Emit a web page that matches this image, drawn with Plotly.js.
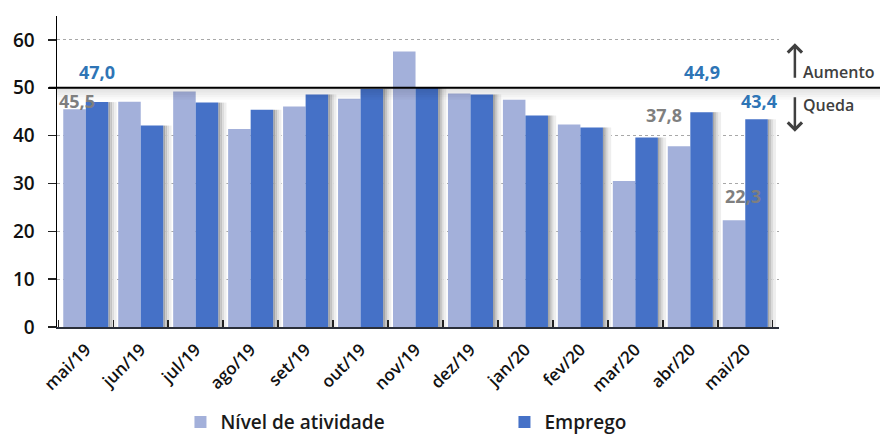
<!DOCTYPE html>
<html>
<head>
<meta charset="utf-8">
<script src="https://cdn.plot.ly/plotly-3.0.1.min.js"></script>
<style>
html,body{margin:0;padding:0;background:#fff;}
#chart{width:880px;height:436px;}
</style>
</head>
<body>
<div id="chart"></div>
<script>
// ---- data ----
var categories = ['mai/19','jun/19','jul/19','ago/19','set/19','out/19','nov/19','dez/19','jan/20','fev/20','mar/20','abr/20','mai/20'];
var nivelAtividade = [45.5, 47.1, 49.2, 41.4, 46.1, 47.7, 57.6, 48.8, 47.5, 42.3, 30.5, 37.8, 22.3];
var emprego = [47.0, 42.1, 46.9, 45.4, 48.6, 49.8, 50.1, 48.6, 44.2, 41.7, 39.6, 44.9, 43.4];
var yTicks = [0, 10, 20, 30, 40, 50, 60];
var seriesNames = ['Nível de atividade', 'Emprego'];
var labelledIdx = [0, 11, 12];

var FONT = '"Open Sans", "Noto Sans", Roboto, sans-serif';
var fmt = function(v){ return v.toFixed(1).replace('.', ','); };

var traces = [];
// soft shadow strips to the right of the Emprego bars
var shadowCols = ['#a6a6a6', '#c2c2c2', '#dcdcdc', '#eeeeee'];
var shadowOff = [0.41, 0.445, 0.48, 0.515];
var shadowW = [0.035, 0.035, 0.035, 0.045];
for (var s = 0; s < shadowCols.length; s++) {
  traces.push({
    type: 'bar', x: categories, y: emprego,
    offset: shadowOff[s], width: shadowW[s],
    marker: {color: shadowCols[s], line: {width: 0}},
    showlegend: false, hoverinfo: 'skip'
  });
}
traces.push({
  type: 'bar', name: seriesNames[0], x: categories, y: nivelAtividade,
  offset: -0.41, width: 0.41,
  marker: {color: '#a3b0da', line: {width: 0}}
});
traces.push({
  type: 'bar', name: seriesNames[1], x: categories, y: emprego,
  offset: 0, width: 0.41,
  marker: {color: '#4571c7', line: {width: 0}}
});

var annotations = [];
// value labels
var grayPos = {0: [-0.16, 47.3], 11: [-0.47, 44.4], 12: [-0.05, 27.4]};
var bluePos = {0: [0.2, 53.4], 11: [0.21, 53.4], 12: [0.25, 47.3]};
labelledIdx.forEach(function(i){
  annotations.push({
    xref: 'x', yref: 'y', x: i + grayPos[i][0], y: grayPos[i][1],
    text: '<b>' + fmt(nivelAtividade[i]) + '</b>', showarrow: false,
    font: {family: FONT, size: 18, color: '#7f7f7f'}
  });
  annotations.push({
    xref: 'x', yref: 'y', x: i + bluePos[i][0], y: bluePos[i][1],
    text: '<b>' + fmt(emprego[i]) + '</b>', showarrow: false,
    font: {family: FONT, size: 18, color: '#2e75b6'}
  });
});
// Aumento / Queda
annotations.push({
  xref: 'paper', yref: 'y', x: 1.022, y: 59.3, ax: 0, ay: 36,
  text: '', showarrow: true, arrowhead: 4, arrowsize: 1.1, arrowwidth: 2.5, arrowcolor: '#404040'
});
annotations.push({
  xref: 'paper', yref: 'y', x: 1.022, y: 40.8, ax: 0, ay: -36,
  text: '', showarrow: true, arrowhead: 4, arrowsize: 1.1, arrowwidth: 2.5, arrowcolor: '#404040'
});
annotations.push({
  xref: 'paper', yref: 'y', x: 1.031, y: 53.4, xanchor: 'left',
  text: 'Aumento', showarrow: false, font: {family: FONT, size: 16, color: '#404040', weight: 600}
});
annotations.push({
  xref: 'paper', yref: 'y', x: 1.031, y: 46.3, xanchor: 'left',
  text: 'Queda', showarrow: false, font: {family: FONT, size: 16, color: '#404040', weight: 600}
});

var shapes = [];
// soft shadow below the 50 line
for (var k = 1; k <= 5; k++) {
  shapes.push({
    type: 'rect', xref: 'paper', yref: 'y', x0: 0, x1: 1.14, y0: 50 - 0.5 * k, y1: 50,
    fillcolor: 'rgba(0,0,0,0.025)', line: {width: 0}, layer: 'above'
  });
}
shapes.push({
  type: 'line', xref: 'paper', yref: 'y', x0: -0.011, x1: 1.14, y0: 50, y1: 50,
  line: {color: '#000', width: 2}, layer: 'above'
});

var layout = {
  width: 880, height: 436,
  margin: {l: 57, r: 101, t: 16, b: 109, autoexpand: false},
  paper_bgcolor: '#fff', plot_bgcolor: '#fff',
  barmode: 'overlay',
  showlegend: true,
  legend: {
    orientation: 'h', x: 0.171, y: -0.306, xanchor: 'left', yanchor: 'middle',
    font: {family: FONT, size: 19, color: '#1a1a1a', weight: 600},
    entrywidth: 279, entrywidthmode: 'pixels', itemwidth: 30,
    traceorder: 'normal', bgcolor: 'rgba(0,0,0,0)'
  },
  xaxis: {
    type: 'category', tickangle: -45,
    tickfont: {family: FONT, size: 17, color: '#111', weight: 600},
    ticklabelstandoff: 4,
    showline: true, linecolor: '#2a2f3a', linewidth: 2,
    ticks: 'inside', tickson: 'boundaries', ticklen: 7, tickwidth: 1.5, tickcolor: '#222',
    showgrid: false, fixedrange: true
  },
  yaxis: {
    range: [0, 65], tickvals: yTicks,
    tickfont: {family: FONT, size: 19, color: '#111', weight: 600},
    ticklabelstandoff: 9,
    showline: true, linecolor: '#000', linewidth: 1.5,
    ticks: 'outside', ticklen: 8, tickwidth: 1.5, tickcolor: '#222',
    showgrid: true, gridcolor: '#a8a8a8', griddash: 'dot', gridwidth: 1,
    zeroline: false, fixedrange: true
  },
  annotations: annotations,
  shapes: shapes
};

Plotly.newPlot('chart', traces, layout, {displayModeBar: false, staticPlot: true});
</script>
</body>
</html>
